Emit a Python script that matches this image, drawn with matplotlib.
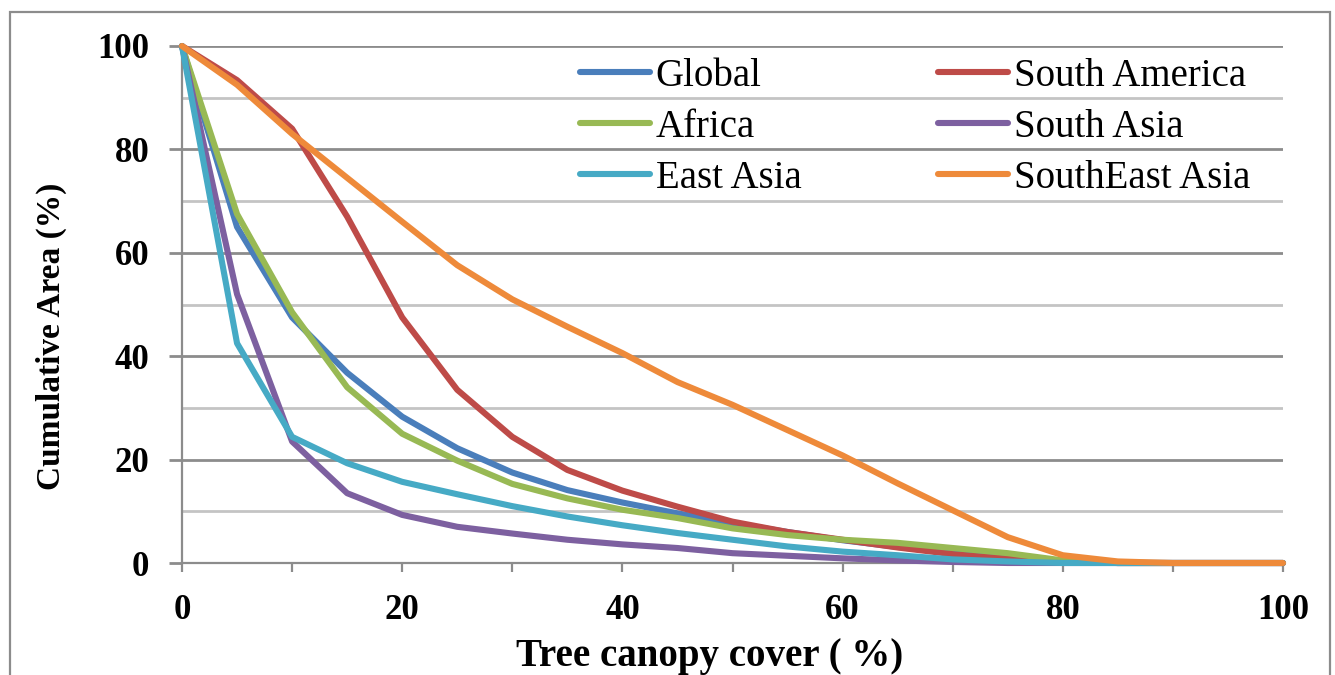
import matplotlib
matplotlib.use('Agg')
import matplotlib.pyplot as plt
from matplotlib.ticker import MultipleLocator
from matplotlib.patches import Rectangle

# tree canopy cover thresholds (%)
canopy = [0, 5, 10, 15, 20, 25, 30, 35, 40, 45, 50, 55, 60, 65, 70, 75, 80, 85, 90, 95, 100]

# cumulative area (%) per region
global_area = [100, 65, 47.5, 36.8, 28.3, 22.2, 17.5, 14.1, 11.7, 9.6, 7.7, 6, 4.4, 3.1, 1.9, 0.9, 0.2, 0, 0, 0, 0]
south_america = [100, 93.4, 84, 67, 47.5, 33.5, 24.4, 18, 14, 10.9, 8, 6, 4.5, 3, 1.7, 0.8, 0.3, 0, 0, 0, 0]
africa = [100, 67.5, 48.5, 34, 25, 19.8, 15.3, 12.5, 10.3, 8.7, 6.7, 5.4, 4.5, 3.9, 2.9, 1.9, 0.5, 0, 0, 0, 0]
south_asia = [100, 52, 23.5, 13.5, 9.3, 7, 5.7, 4.5, 3.6, 2.9, 1.9, 1.4, 0.9, 0.5, 0.2, 0, 0, 0, 0, 0, 0]
east_asia = [100, 42.5, 24.4, 19.3, 15.7, 13.3, 11, 9, 7.3, 5.8, 4.5, 3.2, 2.2, 1.5, 0.7, 0.3, 0, 0, 0, 0, 0]
southeast_asia = [100, 92.5, 83, 74.5, 66, 57.6, 51, 45.7, 40.6, 35, 30.6, 25.7, 20.8, 15.4, 10.2, 5, 1.5, 0.3, 0, 0, 0]

names = ['Global', 'South America', 'Africa', 'South Asia', 'East Asia', 'SouthEast Asia']
series = [global_area, south_america, africa, south_asia, east_asia, southeast_asia]
colors = ['#4A7EBB', '#BE4B48', '#98B954', '#7D60A0', '#46AAC5', '#EE8A3A']

plt.rcParams['font.family'] = ['Liberation Serif', 'DejaVu Serif']

fig = plt.figure(figsize=(13.35, 6.75), dpi=100)
ax = fig.add_axes([182/1335, 1-563/675, 1101/1335, 517/675])

lines = {}
for name, vals, c in zip(names, series, colors):
    ln, = ax.plot(canopy, vals, color=c, lw=4.4, clip_on=False,
                  solid_capstyle='round', solid_joinstyle='round', zorder=3)
    lines[name] = ln

ax.set_xlim(0, 100)
ax.set_ylim(0, 100)

grid_dark = '#8C8C8C'
grid_light = '#C4C4C4'
ax.xaxis.set_major_locator(MultipleLocator(20))
ax.xaxis.set_minor_locator(MultipleLocator(10))
ax.yaxis.set_major_locator(MultipleLocator(20))
ax.yaxis.set_minor_locator(MultipleLocator(10))
ax.grid(which='major', axis='y', color=grid_dark, lw=2.0, zorder=0)
ax.grid(which='minor', axis='y', color=grid_light, lw=2.0, zorder=0)
ax.set_axisbelow(True)

for s in ['top', 'right']:
    ax.spines[s].set_visible(False)
for s in ['left', 'bottom']:
    ax.spines[s].set_color(grid_dark)
    ax.spines[s].set_linewidth(1.6)

ax.tick_params(axis='x', which='both', direction='out', length=6.5, width=1.6,
               color=grid_dark, pad=16, labelsize=25)
ax.tick_params(axis='y', which='major', direction='out', length=9.5, width=2.0,
               color=grid_dark, pad=14, labelsize=25)
ax.tick_params(axis='y', which='minor', length=0)
for lab in ax.get_xticklabels() + ax.get_yticklabels():
    lab.set_fontweight('bold')

ax.set_xlabel('Tree canopy cover ( %)', fontsize=28, fontweight='bold')
ax.xaxis.set_label_coords(0.479, -0.145)
ax.set_ylabel('Cumulative Area (%)', fontsize=24, fontweight='bold')
ax.yaxis.set_label_coords(-0.104, 0.439)

order = ['Global', 'Africa', 'East Asia', 'South America', 'South Asia', 'SouthEast Asia']
leg = ax.legend([lines[n] for n in order], order, ncol=2, frameon=False,
                fontsize=28, handlelength=1.8, handletextpad=0.15,
                columnspacing=3.5, labelspacing=0.36, borderpad=0, borderaxespad=0,
                loc='upper left', bbox_to_anchor=(0.3615, 0.977))

# outer chart border
fig.patches.append(Rectangle((10/1335, -0.02), 1320/1335, 1.02-12/675,
                             transform=fig.transFigure, fill=False,
                             edgecolor='#8C8C8C', lw=1.6))

plt.savefig('out.png', dpi=100)
